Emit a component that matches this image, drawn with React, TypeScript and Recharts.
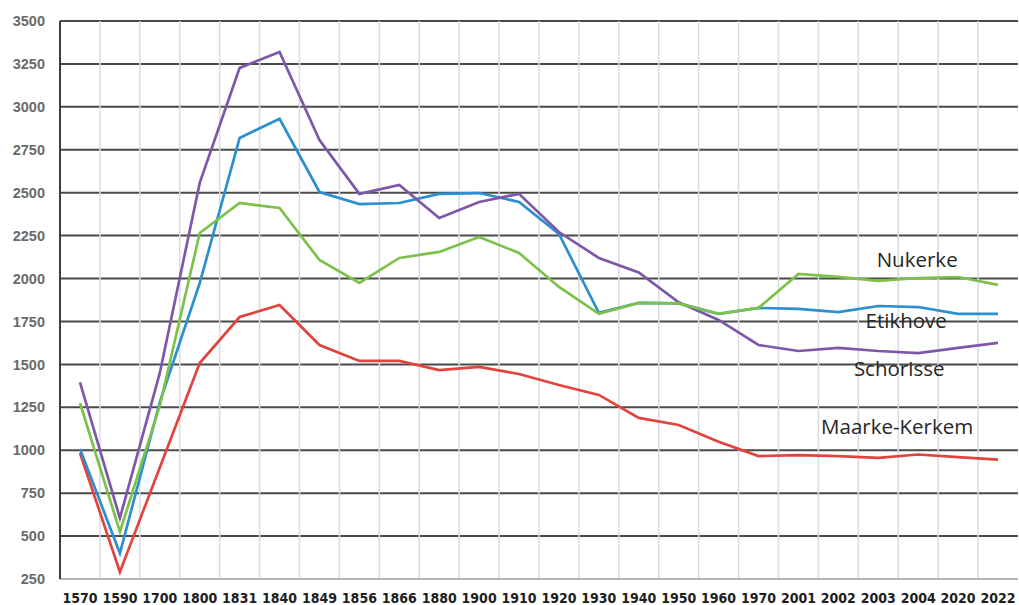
import { LineChart, Line, XAxis, YAxis, CartesianGrid, ReferenceDot } from "recharts"

const years = [
  "1570", "1590", "1700", "1800", "1831", "1840", "1849", "1856", "1866", "1880", "1900", "1910",
  "1920", "1930", "1940", "1950", "1960", "1970", "2001", "2002", "2003", "2004", "2020", "2022",
]

const nukerke = [1275, 525, 1260, 2265, 2440, 2411, 2108, 1974, 2120, 2155, 2242, 2149, 1951, 1794, 1858, 1855, 1794, 1829, 2027, 2010, 1986, 2003, 2009, 1963]
const etikhove = [1007, 400, 1280, 1974, 2819, 2930, 2504, 2434, 2440, 2493, 2498, 2446, 2260, 1800, 1858, 1855, 1794, 1829, 1823, 1805, 1840, 1834, 1794, 1794]
const schorisse = [1395, 605, 1450, 2557, 3227, 3320, 2807, 2493, 2545, 2353, 2446, 2493, 2271, 2120, 2035, 1862, 1759, 1613, 1578, 1596, 1578, 1566, 1596, 1625]
const maarkeKerkem = [984, 291, 900, 1508, 1776, 1846, 1613, 1520, 1520, 1467, 1485, 1444, 1380, 1322, 1188, 1147, 1050, 966, 972, 966, 955, 975, 960, 945]

const yTicks = [250, 500, 750, 1000, 1250, 1500, 1750, 2000, 2250, 2500, 2750, 3000, 3250, 3500]

// name labels next to the right end of the lines: [text, category, value, dx]
const seriesLabels: [string, string, number, number][] = [
  ["Nukerke", "2004", 2114, -1],
  ["Etikhove", "2004", 1759, -12],
  ["Schorisse", "2004", 1479, -19],
  ["Maarke-Kerkem", "2004", 1141, -21],
]

const data = years.map((year, i) => ({
  year,
  nukerke: nukerke[i],
  etikhove: etikhove[i],
  schorisse: schorisse[i],
  maarkeKerkem: maarkeKerkem[i],
}))

export default function App() {
  return (
    <div style={{ position: "absolute", left: 0, top: 0, background: "#fff" }}>
      <LineChart
        width={1019}
        height={605}
        data={data}
        margin={{ top: 21, right: 1, bottom: 0, left: 0 }}
      >
        <CartesianGrid
          stroke="#4a4a4a"
          strokeWidth={2}
          vertical={false}
        />
        <CartesianGrid
          stroke="#d8dce2"
          strokeWidth={1.5}
          horizontal={false}
          verticalCoordinatesGenerator={({ offset }: any) =>
            years.slice(1).map((_, i) => offset.left + ((i + 1) * offset.width) / years.length)
          }
        />
        <XAxis
          dataKey="year"
          interval={0}
          height={26}
          tickSize={0}
          tickMargin={14}
          padding={{ left: 20, right: 20 }}
          axisLine={{ stroke: "#b4b4b4", strokeWidth: 2 }}
          tick={{
            fill: "#1e1e1e",
            fontSize: 14,
            fontWeight: 700,
            fontFamily: "'Liberation Sans Narrow', 'DejaVu Sans Condensed', 'Liberation Sans', sans-serif",
          }}
        />
        <YAxis
          domain={[250, 3500]}
          ticks={yTicks}
          width={60}
          tickSize={0}
          tickMargin={15}
          axisLine={{ stroke: "#3c3c3c", strokeWidth: 2 }}
          tick={{ fill: "#6a6a6a", fontSize: 14.5, fontWeight: 700, fontFamily: "'Liberation Sans', sans-serif" }}
        />
        <Line type="linear" dataKey="maarkeKerkem" stroke="#e0443d" strokeWidth={2.7} dot={false} isAnimationActive={false} />
        <Line type="linear" dataKey="etikhove" stroke="#2b8fd0" strokeWidth={2.7} dot={false} isAnimationActive={false} />
        <Line type="linear" dataKey="schorisse" stroke="#7e58a8" strokeWidth={2.7} dot={false} isAnimationActive={false} />
        <Line type="linear" dataKey="nukerke" stroke="#7cc24a" strokeWidth={2.7} dot={false} isAnimationActive={false} />
        {seriesLabels.map(([text, x, y, dx]) => (
          <ReferenceDot
            key={text}
            x={x}
            y={y}
            r={0}
            fill="none"
            stroke="none"
            label={{
              content: ({ viewBox }: any) => (
                <text
                  x={viewBox.x + viewBox.width / 2 + dx}
                  y={viewBox.y + viewBox.height / 2}
                  textAnchor="middle"
                  dominantBaseline="central"
                  fill="#262626"
                  fontSize={20.5}
                  fontFamily="'Open Sans', sans-serif"
                >
                  {text}
                </text>
              ),
            }}
          />
        ))}
      </LineChart>
    </div>
  )
}
